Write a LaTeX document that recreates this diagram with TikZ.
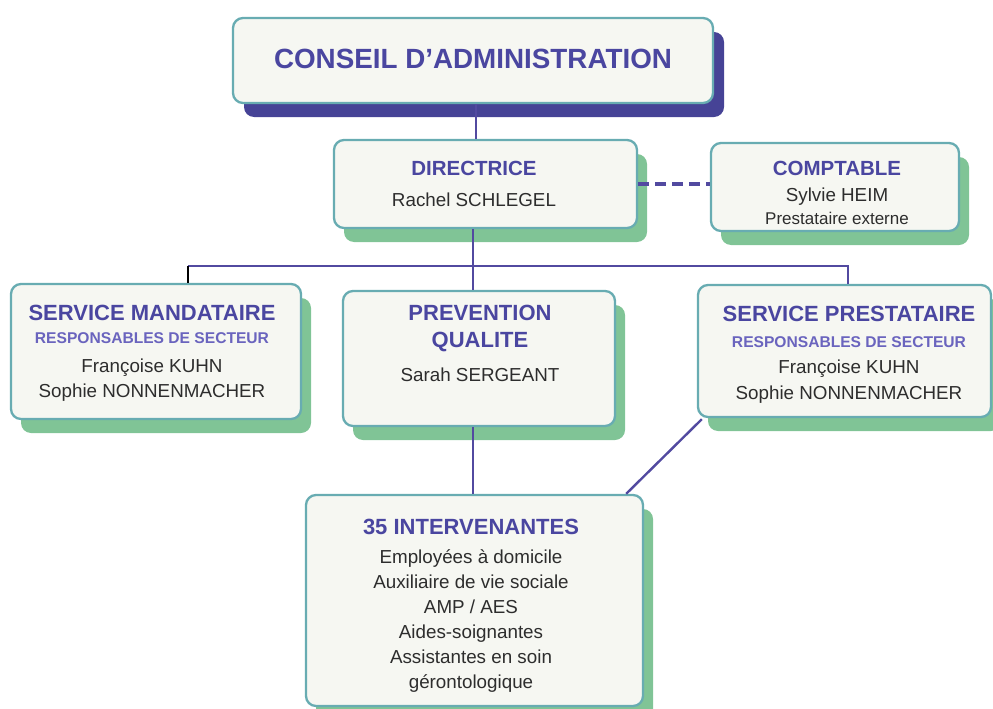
\documentclass[tikz,border=0pt]{standalone}
\usepackage{fontspec}
\setmainfont{Liberation Sans}
\usepackage{xcolor}
\usetikzlibrary{shadows}
\definecolor{orgviolet}{RGB}{74,70,160}
\definecolor{orgsubviolet}{RGB}{106,100,190}
\definecolor{orgtext}{RGB}{45,45,45}
\definecolor{orgfill}{RGB}{246,247,242}
\definecolor{orgteal}{RGB}{104,172,178}
\definecolor{orggreen}{RGB}{128,196,150}
\definecolor{orgnavy}{RGB}{70,67,150}
\definecolor{orgline}{RGB}{82,74,160}
\newcommand\orghead[2][22]{{\color{orgviolet}\bfseries\fontsize{#1}{25}\selectfont #2}}
\newcommand\orgsub[1]{{\color{orgsubviolet}\bfseries\fontsize{15.6}{25}\selectfont #1}}
\tikzset{
  card/.style={draw=orgteal,line width=2.3pt,fill=orgfill,rounded corners=10pt,inner sep=0pt},
  greenshade/.style={general shadow={fill=orggreen,shadow xshift=10pt,shadow yshift=-14pt}},
  navyshade/.style={general shadow={fill=orgnavy,shadow xshift=11pt,shadow yshift=-14pt}},
  cardtext/.style={align=center,inner sep=0pt,text=orgtext,font=\fontsize{18.8}{25}\selectfont},
  link/.style={draw=orgline,line width=2.4pt},
}
\begin{document}
\begin{tikzpicture}[x=1pt,y=-1pt]
\useasboundingbox (0,0) rectangle (993,709);
\node[card,navyshade,minimum width=480pt,minimum height=85pt] (ca) at (473,60.5) {};
\node[card,greenshade,minimum width=303pt,minimum height=88pt] (dir) at (485.5,184) {};
\node[card,greenshade,minimum width=248pt,minimum height=88pt] (compta) at (835,187) {};
\node[card,greenshade,minimum width=290pt,minimum height=135pt] (mand) at (156,351.5) {};
\node[card,greenshade,minimum width=272pt,minimum height=135pt] (prev) at (479,358.5) {};
\node[card,greenshade,minimum width=293pt,minimum height=132pt] (prest) at (844.5,351) {};
\node[card,greenshade,minimum width=337pt,minimum height=211pt] (interv) at (474.5,600.5) {};
\node[cardtext] (catext) at (473,59.3) {\orghead[27.8]{CONSEIL D’ADMINISTRATION}};
\node[cardtext] (dirtext) at (474,184.3) {\orghead[20.5]{DIRECTRICE}\\[6pt] Rachel SCHLEGEL};
\node[cardtext] (comptatext) at (837,193) {\orghead[20.5]{COMPTABLE}\\[1pt] Sylvie HEIM\\[-2.5pt] {\fontsize{17}{25}\selectfont Prestataire externe}};
\node[cardtext] (mandtext) at (152,353.5) {\orghead{SERVICE MANDATAIRE}\\[-2pt] \orgsub{RESPONSABLES DE SECTEUR}\\[4pt] Françoise KUHN\\ Sophie NONNENMACHER};
\node[cardtext] (prevtext) at (480,343.5) {\orghead{PREVENTION}\\[2pt] \orghead{QUALITE}\\[9pt] Sarah SERGEANT};
\node[cardtext] (presttext) at (849,355) {\orghead{SERVICE PRESTATAIRE}\\[1pt] \orgsub{RESPONSABLES DE SECTEUR}\\[1pt] Françoise KUHN\\[1pt] Sophie NONNENMACHER};
\node[cardtext] (intervtext) at (471,605.5) {\orghead{35 INTERVENANTES}\\[4pt] Employées à domicile\\ Auxiliaire de vie sociale\\ AMP / AES\\ Aides-soignantes\\ Assistantes en soin\\ gérontologique};
\coordinate (hub) at (473,266);
\coordinate (barl) at (188,266);
\coordinate (barr) at (848,266);
\draw[link] ([xshift=3pt]ca.south) -- ([xshift=3pt]ca.south |- dir.north);
\draw[link] (dir.south -| hub) -- (hub |- prev.north);
\draw[link] (barl) -- (barr) -- (barr |- prest.north);
\draw[line width=2.4pt,black] (barl) -- (barl |- mand.north);
\draw[link] (prev.south -| hub) -- (hub |- interv.north);
\draw[link] ([xshift=5pt,yshift=-1pt]prest.south west) -- ([xshift=-18pt]interv.north east);
\draw[link,line width=3.5pt,dash pattern=on 11pt off 6pt] (dir.east) -- (dir.east -| compta.west);
\end{tikzpicture}
\end{document}
